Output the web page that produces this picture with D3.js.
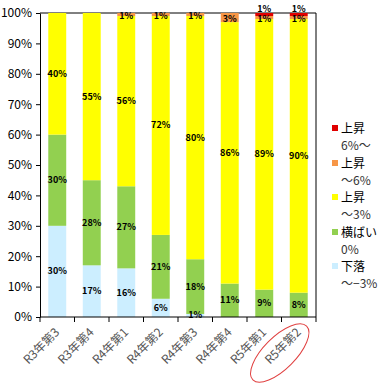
<!DOCTYPE html>
<html>
<head>
<meta charset="utf-8">
<script src="https://cdn.jsdelivr.net/npm/d3@7"></script>
<style>
    body { margin: 0; background: #fff; }
    text { font-family: "Noto Sans CJK JP", "DejaVu Sans", sans-serif; }
    .axis path, .axis line { stroke: #000; }
    .seglabel { font-size: 9px; font-weight: bold; text-anchor: middle; fill: #000; }
</style>
</head>
<body>
<svg id="chart" width="389" height="389"></svg>
<script>
// categories (x axis)
var categories = ["R3年第3", "R3年第4", "R4年第1", "R4年第2", "R4年第3", "R4年第4", "R5年第1", "R5年第2"];

// series values, bottom to top (%)
var geraku   = [30, 17, 16, 6, 1, 0, 0, 0];     // 下落 〜−3%
var yokobai  = [30, 28, 27, 21, 18, 11, 9, 8];  // 横ばい 0%
var up3      = [40, 55, 56, 72, 80, 86, 89, 90];// 上昇 〜3%
var up6      = [0, 0, 1, 1, 1, 3, 1, 1];        // 上昇 〜6%
var up6plus  = [0, 0, 0, 0, 0, 0, 1, 1];        // 上昇 6%〜

var seriesNames = [["下落", "〜−3%"], ["横ばい", "0%"], ["上昇", "〜3%"], ["上昇", "〜6%"], ["上昇", "6%〜"]];
var seriesColors = ["#cceeff", "#92d050", "#ffff00", "#f79646", "#e00000"];
var yTicks = [0, 10, 20, 30, 40, 50, 60, 70, 80, 90, 100];

var seriesData = [geraku, yokobai, up3, up6, up6plus];

var svg = d3.select("#chart");
var margin = {left: 40, top: 13, right: 316, bottom: 317};

var x = d3.scaleBand().domain(categories).range([margin.left, margin.right]).paddingInner(0.48).paddingOuter(0.24);
var y = d3.scaleLinear().domain([0, 100]).range([margin.bottom, margin.top]);

// build stacked table
var table = categories.map(function(c, i) {
    var row = {cat: c};
    seriesData.forEach(function(s, k) { row["s" + k] = s[i]; });
    return row;
});
var stack = d3.stack().keys(seriesData.map(function(s, k) { return "s" + k; }));
var stacked = stack(table);

// plot frame (top and right)
svg.append("line").attr("x1", margin.left).attr("x2", margin.right)
    .attr("y1", margin.top).attr("y2", margin.top).attr("stroke", "#000");
svg.append("line").attr("x1", margin.right).attr("x2", margin.right)
    .attr("y1", margin.top).attr("y2", margin.bottom).attr("stroke", "#000");

var layers = svg.append("g").selectAll("g")
    .data(stacked)
    .enter().append("g")
    .attr("fill", function(d, k) { return seriesColors[k]; });

layers.selectAll("rect")
    .data(function(d) { return d; })
    .enter().append("rect")
    .attr("x", function(d) { return x(d.data.cat); })
    .attr("width", x.bandwidth())
    .attr("y", function(d) { return y(d[1]); })
    .attr("height", function(d) { return y(d[0]) - y(d[1]); });

// segment labels
stacked.forEach(function(layer, k) {
    svg.append("g").selectAll("text")
        .data(layer.filter(function(d) { return d[1] - d[0] > 0; }))
        .enter().append("text")
        .attr("class", "seglabel")
        .attr("x", function(d) { return x(d.data.cat) + x.bandwidth() / 2; })
        .attr("y", function(d) {
            var yy = y((d[0] + d[1]) / 2) + 3;
            if (k == 4) yy -= 6;
            if (k == 3) yy += 1;
            return yy;
        })
        .text(function(d) { return (d[1] - d[0]) + "%"; });
});

// y axis
svg.append("g").attr("class", "axis")
    .attr("transform", "translate(" + margin.left + ",0)")
    .call(d3.axisLeft(y).tickValues(yTicks).tickSize(4).tickSizeOuter(0).tickFormat(function(d) { return d + "%"; }))
    .call(function(g) {
        g.select(".domain").attr("stroke", "#808080");
        g.selectAll("text").attr("font-size", 12).attr("fill", "#000").attr("dx", -1);
    });

// x axis with ticks between categories
var xa = svg.append("g").attr("class", "axis")
    .attr("transform", "translate(0," + margin.bottom + ")");
xa.append("line").attr("x1", margin.left).attr("x2", margin.right).attr("stroke", "#000");
d3.range(categories.length + 1).forEach(function(i) {
    var xx = margin.left + (margin.right - margin.left) / categories.length * i;
    xa.append("line").attr("x1", xx).attr("x2", xx).attr("y1", 0).attr("y2", 5).attr("stroke", "#000");
});
xa.selectAll("text.cat")
    .data(categories)
    .enter().append("text")
    .attr("class", "cat")
    .attr("font-size", 12)
    .attr("fill", "#555")
    .attr("text-anchor", "end")
    .attr("transform", function(d) {
        return "translate(" + (x(d) + x.bandwidth() / 2 + 3) + ",16) rotate(-45)";
    })
    .text(function(d) { return d; });

// red ellipse around the latest quarter
var last = categories[categories.length - 1];
svg.append("ellipse")
    .attr("transform", "translate(" + (x(last) + x.bandwidth() / 2 - 19) + "," + (margin.bottom + 36) + ") rotate(-45)")
    .attr("rx", 38).attr("ry", 16)
    .attr("fill", "none").attr("stroke", "#e04040").attr("stroke-width", 1);

// legend (top series first)
var legY = [128, 163, 197, 232, 266];
var legend = svg.append("g");
[4, 3, 2, 1, 0].forEach(function(k, i) {
    var g = legend.append("g").attr("transform", "translate(332," + legY[i] + ")");
    g.append("rect").attr("x", 0).attr("y", -3).attr("width", 6).attr("height", 6).attr("fill", seriesColors[k]);
    g.append("text").attr("x", 9).attr("y", 5).attr("font-size", 12).text(seriesNames[k][0]);
    g.append("text").attr("x", 9).attr("y", 22).attr("font-size", 12).attr("fill", "#333").text(seriesNames[k][1]);
});
</script>
</body>
</html>
